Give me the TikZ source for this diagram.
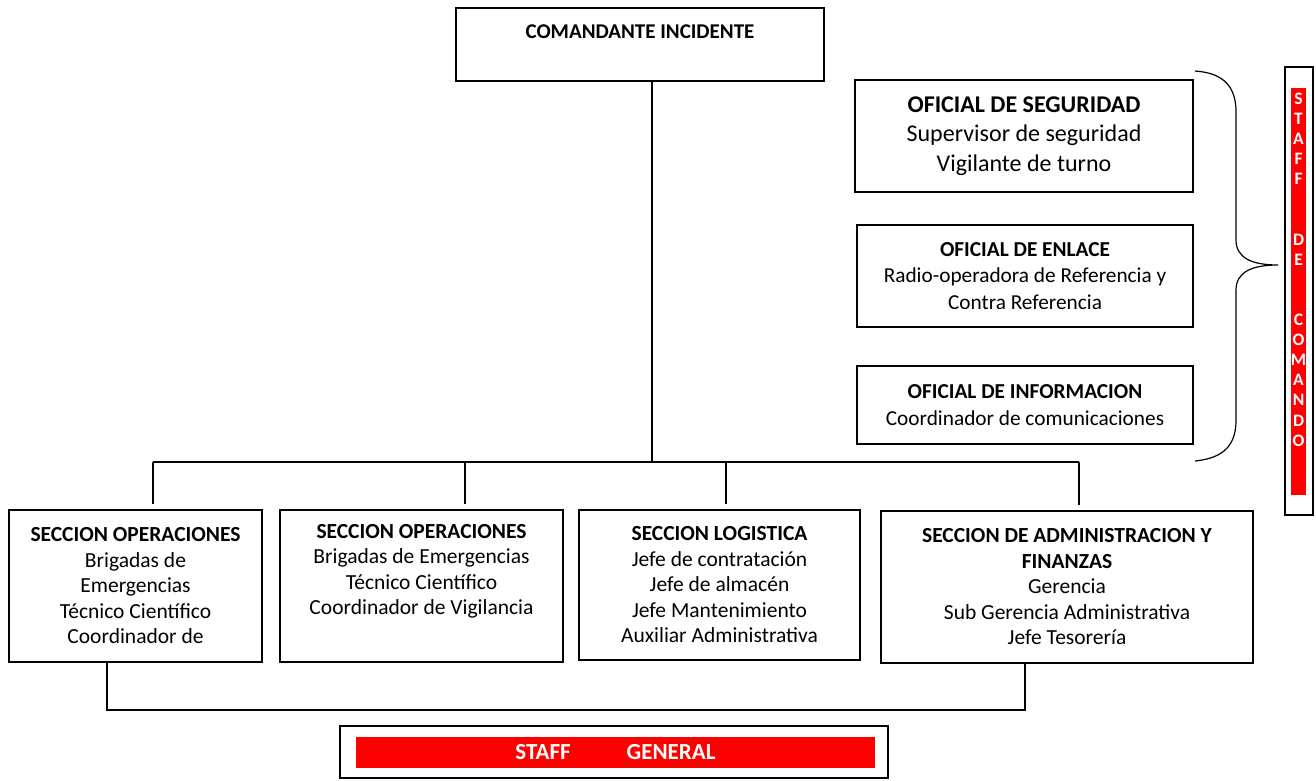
\documentclass[tikz,border=0pt]{standalone}
\usepackage{fontspec}
\setmainfont{Carlito}
\definecolor{staffred}{RGB}{255,0,0}
\begin{document}
\begin{tikzpicture}[x=1pt,y=-1pt,line width=1.2pt,
  box/.style={draw,rectangle,inner sep=0pt,align=center},
  body/.style={font=\fontsize{21.5}{25.5}\selectfont},
  bigbody/.style={font=\fontsize{24}{29.5}\selectfont},
  midbody/.style={font=\fontsize{21.3}{26.5}\selectfont},
  redbar/.style={fill=staffred,draw=none,inner sep=0pt,text=white,align=center},
  link/.style={line width=1.2pt}]
\useasboundingbox (0,0) rectangle (1316,780);

% commander
\node[box,minimum width=368pt,minimum height=73pt] (cmd) at (640,44.5) {};
\node[font=\bfseries\fontsize{21}{24}\selectfont] (cmdt) at (640,32) {COMANDANTE INCIDENTE};

% command staff
\node[box,bigbody,minimum width=338pt,minimum height=112pt] (seg) at (1024,136)
  {\textbf{OFICIAL DE SEGURIDAD}\\Supervisor de seguridad\\Vigilante de turno};
\node[box,midbody,minimum width=336pt,minimum height=102pt] (enl) at (1025,276)
  {\textbf{OFICIAL DE ENLACE}\\Radio-operadora de Referencia y\\Contra Referencia};
\node[box,midbody,minimum width=336pt,minimum height=78pt] (inf) at (1025,405)
  {\textbf{OFICIAL DE INFORMACION}\\Coordinador de comunicaciones};

% brace
\draw[link] (1195,71) .. controls (1225,73) and (1236,88) .. (1236,112)
  -- (1236,240) .. controls (1236,258) and (1252,265) .. (1278,265)
  .. controls (1252,265) and (1236,272) .. (1236,290)
  -- (1236,420) .. controls (1236,444) and (1225,458) .. (1195,461);

% staff de comando
\node[box,minimum width=28pt,minimum height=448pt] (sdc) at (1299,291) {};
\node[redbar,minimum width=15pt,minimum height=407pt] (sdcr) at (1298.5,291.5) {};
\node[text=white,font=\bfseries\fontsize{17.5}{20.1}\selectfont,align=center,anchor=north]
  (sdct) at (1298.5,89)
  {S\\T\\A\\F\\F\\[40.2pt]D\\E\\[40.2pt]C\\O\\M\\A\\N\\D\\O};

% sections
\node[box,body,minimum width=253pt,minimum height=152pt] (b1) at (135.5,586)
  {\textbf{SECCION OPERACIONES}\\Brigadas de\\Emergencias\\Técnico Científico\\Coordinador de};
\node[box,minimum width=283pt,minimum height=152pt] (b2) at (421.5,586) {};
\node[body,align=center,anchor=north] (b2t) at (421.5,520)
  {\textbf{SECCION OPERACIONES}\\Brigadas de Emergencias\\Técnico Científico\\Coordinador de Vigilancia};
\node[box,body,minimum width=281pt,minimum height=150pt] (b3) at (719.5,585)
  {\textbf{SECCION LOGISTICA}\\Jefe de contratación\\Jefe de almacén\\Jefe Mantenimiento\\Auxiliar Administrativa};
\node[box,body,minimum width=372pt,minimum height=152pt] (b4) at (1067,587)
  {\textbf{SECCION DE ADMINISTRACION Y}\\\textbf{FINANZAS}\\Gerencia\\Sub Gerencia Administrativa\\Jefe Tesorería};

% staff general
\node[box,minimum width=548pt,minimum height=52pt] (sg) at (614,752) {};
\node[redbar,minimum width=519pt,minimum height=31pt,font=\bfseries\fontsize{23}{24}\selectfont] (sgr) at (615.5,752.5)
  {STAFF\hspace{56pt}GENERAL};

% connectors
\coordinate (j) at (652,462);
\coordinate (jl) at (153,462);
\coordinate (jr) at (1079,462);
\coordinate (d2) at (465,462);
\coordinate (d3) at (726,462);
\draw[link] (cmd.south -| j) -- (j);
\draw[link] (jl) -- (jr);
\draw[link,shorten >=5pt] (jl) -- (jl |- b1.north);
\draw[link,shorten >=5pt] (d2) -- (d2 |- b2.north);
\draw[link,shorten >=5pt] (d3) -- (d3 |- b3.north);
\draw[link,shorten >=5pt] (jr) -- (jr |- b4.north);
\coordinate (g1) at (107,710);
\coordinate (g2) at (1025,710);
\draw[link] (g1 |- b1.south) -- (g1) -- (g2) -- (g2 |- b4.south);
\end{tikzpicture}
\end{document}
